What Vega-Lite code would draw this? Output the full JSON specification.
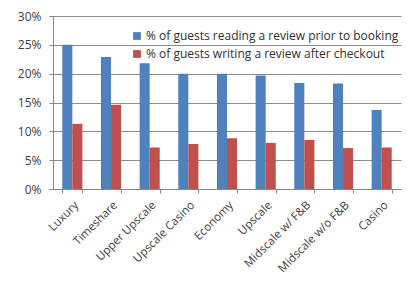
{
  "$schema": "https://vega.github.io/schema/vega-lite/v6.json",
  "width": 348,
  "height": 173,
  "autosize": {"type": "none"},
  "padding": {"left": 53, "top": 16, "right": 6, "bottom": 98},
  "background": "white",
  "data": {"values": [
    {"cat": "Luxury", "series": "% of guests reading a review prior to booking", "v": 25.0},
    {"cat": "Timeshare", "series": "% of guests reading a review prior to booking", "v": 22.9},
    {"cat": "Upper Upscale", "series": "% of guests reading a review prior to booking", "v": 21.8},
    {"cat": "Upscale Casino", "series": "% of guests reading a review prior to booking", "v": 20.0},
    {"cat": "Economy", "series": "% of guests reading a review prior to booking", "v": 20.0},
    {"cat": "Upscale", "series": "% of guests reading a review prior to booking", "v": 19.7},
    {"cat": "Midscale w/ F&B", "series": "% of guests reading a review prior to booking", "v": 18.4},
    {"cat": "Midscale w/o F&B", "series": "% of guests reading a review prior to booking", "v": 18.3},
    {"cat": "Casino", "series": "% of guests reading a review prior to booking", "v": 13.7},
    {"cat": "Luxury", "series": "% of guests writing a review after checkout", "v": 11.3},
    {"cat": "Timeshare", "series": "% of guests writing a review after checkout", "v": 14.6},
    {"cat": "Upper Upscale", "series": "% of guests writing a review after checkout", "v": 7.2},
    {"cat": "Upscale Casino", "series": "% of guests writing a review after checkout", "v": 7.8},
    {"cat": "Economy", "series": "% of guests writing a review after checkout", "v": 8.8},
    {"cat": "Upscale", "series": "% of guests writing a review after checkout", "v": 8.0},
    {"cat": "Midscale w/ F&B", "series": "% of guests writing a review after checkout", "v": 8.5},
    {"cat": "Midscale w/o F&B", "series": "% of guests writing a review after checkout", "v": 7.1},
    {"cat": "Casino", "series": "% of guests writing a review after checkout", "v": 7.2}
  ]},
  "mark": {"type": "bar"},
  "encoding": {
    "x": {
      "field": "cat", "type": "nominal", "sort": null, "title": null,
      "scale": {"paddingInner": 0.48, "paddingOuter": 0.24},
      "axis": {
        "labelAngle": -45, "labelAlign": "right", "labelBaseline": "top",
        "labelFont": "Open Sans", "labelFontSize": 11.5, "labelColor": "#404040",
        "tickBand": "extent", "tickColor": "#888888", "tickSize": 4,
        "domainColor": "#888888", "labelPadding": 6, "labelDy": 14, "labelDx": 3, "labelOverlap": false
      }
    },
    "xOffset": {"field": "series", "type": "nominal", "sort": null},
    "y": {
      "field": "v", "type": "quantitative", "title": null,
      "scale": {"domain": [0, 30], "nice": false},
      "axis": {
        "values": [0, 5, 10, 15, 20, 25, 30],
        "labelExpr": "datum.value + '%'",
        "labelFont": "Open Sans", "labelFontSize": 12, "labelColor": "#404040",
        "grid": true, "gridColor": "#8c8c8c", "gridWidth": 1,
        "tickColor": "#888888", "tickSize": 4, "domainColor": "#888888",
        "labelPadding": 8
      }
    },
    "color": {
      "field": "series", "type": "nominal", "sort": null,
      "scale": {"range": ["#4F81BD", "#C0504D"]},
      "legend": {
        "title": null, "orient": "none", "legendX": 78, "legendY": 14,
        "symbolType": "square", "symbolSize": 60, "symbolStrokeWidth": 0,
        "labelFont": "Open Sans", "labelFontSize": 12, "labelColor": "#303030",
        "rowPadding": 6, "labelOffset": 3, "labelLimit": 300
      }
    }
  },
  "config": {"view": {"stroke": null}}
}
